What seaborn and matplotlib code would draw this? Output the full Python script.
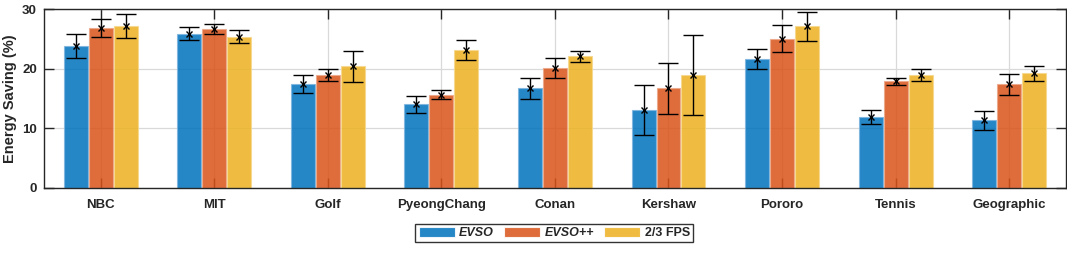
import numpy as np
import pandas as pd
import matplotlib
matplotlib.use("Agg")
import matplotlib.pyplot as plt
import seaborn as sns

categories = ["NBC", "MIT", "Golf", "PyeongChang", "Conan", "Kershaw", "Pororo", "Tennis", "Geographic"]
series = ["EVSO", "EVSO++", "2/3 FPS"]
evso = [23.8, 25.9, 17.5, 14.0, 16.7, 13.0, 21.6, 11.85, 11.35]
evso_pp = [26.8, 26.7, 18.9, 15.6, 20.1, 16.7, 25.0, 17.9, 17.4]
fps23 = [27.1, 25.4, 20.4, 23.1, 22.1, 19.0, 27.1, 18.9, 19.2]
evso_err = [2.0, 1.1, 1.5, 1.35, 1.8, 4.2, 1.7, 1.15, 1.6]
evso_pp_err = [1.5, 0.8, 1.0, 0.75, 1.7, 4.25, 2.25, 0.55, 1.75]
fps23_err = [2.0, 1.1, 2.55, 1.7, 0.9, 6.7, 2.4, 1.0, 1.3]
yticks = [0, 10, 20, 30]

values = [evso, evso_pp, fps23]
errors = [evso_err, evso_pp_err, fps23_err]
df = pd.DataFrame({
    "Video": np.tile(categories, 3),
    "Method": np.repeat(series, len(categories)),
    "Saving": np.concatenate(values),
    "Err": np.concatenate(errors),
})

sns.set_theme(style="white")
plt.rcParams["font.family"] = ["Liberation Sans", "DejaVu Sans"]
plt.rcParams["font.weight"] = "bold"

colors = ["#0072BD", "#D95319", "#EDB120"]
edge_colors = ["#7fb5de", "#eda88a", "#f6d88f"]
fig = plt.figure(figsize=(10.67, 2.67), dpi=100)
ax = fig.add_axes([0.0412, 0.296, 0.9578, 0.670])

sns.barplot(data=df, x="Video", y="Saving", hue="Method", order=categories,
            hue_order=series, palette=colors, saturation=1, width=0.66, gap=0.04,
            errorbar=None, alpha=0.85, linewidth=0.8,
            ax=ax, legend=True, zorder=2)

# error bars from bar positions
for container, err, ec in zip(ax.containers, errors, edge_colors):
    for p in container.patches:
        p.set_edgecolor(ec)
    xs = [p.get_x() + p.get_width() / 2 for p in container.patches]
    hs = [p.get_height() for p in container.patches]
    ax.errorbar(xs, hs, yerr=err, fmt="x", color="black", ecolor="black",
                elinewidth=1.0, capsize=7.5, capthick=1.0, markersize=4,
                markeredgewidth=1.0, zorder=4)

ax.set_xlim(-0.5, len(categories) - 0.5)
ax.set_ylim(0, 30)
ax.set_yticks(yticks)
ax.set_xlabel("")
ax.set_ylabel("Energy Saving (%)", fontsize=10.5, fontweight="bold")
ax.yaxis.set_label_coords(-0.0264, 0.5)
ax.grid(True, color="#d9d9d9", linewidth=0.9, zorder=0)
ax.set_axisbelow(True)
ax.tick_params(axis="both", direction="in", length=7, width=1.0, color="#262626",
               labelsize=9.5, top=True, right=True, bottom=True, left=True)
ax.tick_params(axis="x", pad=8)
ax.tick_params(axis="y", pad=5)
for lab in ax.get_xticklabels() + ax.get_yticklabels():
    lab.set_fontweight("bold")
for s in ax.spines.values():
    s.set_color("#262626")
    s.set_linewidth(1.0)
    s.set_zorder(5)

handles, labels = ax.get_legend_handles_labels()
ax.get_legend().remove()
leg = fig.legend(handles, labels, loc="center", bbox_to_anchor=(0.5195, 0.1275), ncol=3,
                 frameon=True, fancybox=False, edgecolor="black", fontsize=9,
                 handlelength=2.9, handleheight=0.9, columnspacing=0.8,
                 handletextpad=0.35, borderpad=0.25, borderaxespad=0)
leg.get_frame().set_linewidth(1.0)
for t in leg.get_texts():
    t.set_fontweight("bold")
    if t.get_text().startswith("EVSO"):
        t.set_fontstyle("italic")

fig.savefig("out.png", dpi=100)
